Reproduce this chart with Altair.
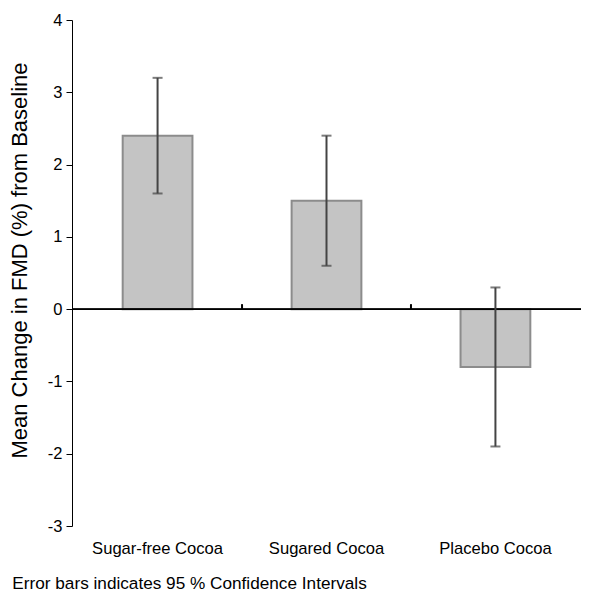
import altair as alt
import pandas as pd

categories = ["Sugar-free Cocoa", "Sugared Cocoa", "Placebo Cocoa"]
means = [2.4, 1.5, -0.8]
ci_low = [1.6, 0.6, -1.9]
ci_high = [3.2, 2.4, 0.3]
y_ticks = [-3, -2, -1, 0, 1, 2, 3, 4]

df = pd.DataFrame({"cat": categories, "mean": means, "lo": ci_low, "hi": ci_high})

FONT = "Liberation Sans"
PLOT_W = 509
STEP = PLOT_W / (3 - 0.587 + 0.6)

xscale = alt.Scale(domain=categories, paddingInner=0.587, paddingOuter=0.3)
xaxis = alt.Axis(title=None, labelAngle=0, domain=False, ticks=False,
                 labelPadding=14, labelFontSize=16.6, labelFont=FONT, labelColor="black")
yscale = alt.Scale(domain=[-3, 4], nice=False, zero=False)
yaxis = alt.Axis(title="Mean Change in FMD (%) from Baseline", values=y_ticks,
                 labelExpr="toString(datum.value)",
                 grid=False, domainColor="black", tickColor="black", tickSize=6,
                 labelPadding=4, labelFontSize=16.5, labelFont=FONT, labelColor="black",
                 titleFont=FONT, titleFontSize=22, titleFontWeight="normal",
                 titleColor="black", titlePadding=16, titleY=240)


def X():
    return alt.X("cat:N", scale=xscale, axis=xaxis)


bars = alt.Chart(df).mark_bar(color="#c4c4c4", stroke="#8c8c8c", strokeWidth=2).encode(
    x=X(), y=alt.Y("mean:Q", scale=yscale, axis=yaxis), y2=alt.Y2(datum=0)
)

zero = alt.Chart(df).mark_rule(color="black", strokeWidth=1.5).encode(
    y=alt.Y(datum=0, scale=yscale, axis=yaxis)
)

# small ticks on the zero line at the boundaries between categories
bticks = alt.Chart(df.iloc[:2]).mark_rule(color="black", strokeWidth=2, xOffset=STEP / 2,
                                          y2Offset=-5).encode(
    x=X(), y=alt.Y(datum=0, scale=yscale, axis=yaxis), y2=alt.Y2(datum=0)
)

err = alt.Chart(df).mark_rule(color="#444444", strokeWidth=2).encode(
    x=X(), y=alt.Y("lo:Q", scale=yscale, axis=yaxis), y2="hi:Q"
)
cap_lo = alt.Chart(df).mark_tick(color="#444444", size=10, thickness=2, orient="horizontal").encode(
    x=X(), y=alt.Y("lo:Q", scale=yscale, axis=yaxis)
)
cap_hi = alt.Chart(df).mark_tick(color="#444444", size=10, thickness=2, orient="horizontal").encode(
    x=X(), y=alt.Y("hi:Q", scale=yscale, axis=yaxis)
)

chart = alt.layer(bars, zero, bticks, err, cap_lo, cap_hi).properties(
    width=574, height=584,
    autosize=alt.AutoSizeParams(type="fit", contains="padding"),
    padding={"left": 0, "top": 4, "right": 0, "bottom": 0},
    title=alt.TitleParams("Error bars indicates 95 % Confidence Intervals", orient="bottom",
                          anchor="start", offset=18, dx=4, font=FONT, fontSize=17.2,
                          fontWeight="normal", color="black"),
).configure_view(stroke=None)

chart.save("out.html", embed_options={"renderer": "svg", "actions": False})
